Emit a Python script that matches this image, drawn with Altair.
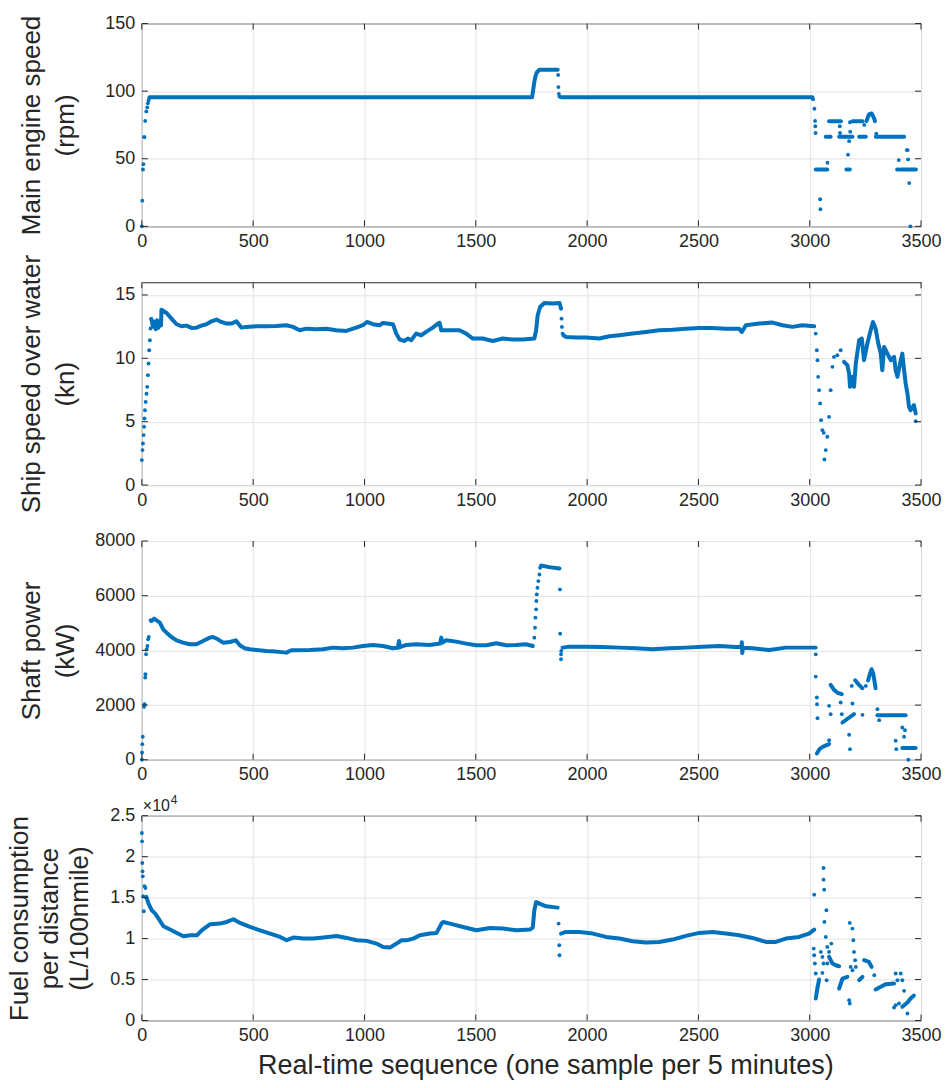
import altair as alt
import pandas as pd

BLUE = "#0072BD"
AXC = "#262626"
GRID = "#e3e3e3"
FONT = "Liberation Sans"
W = 780

x_ticks = [0, 500, 1000, 1500, 2000, 2500, 3000, 3500]

# ---------------- Panel 1: main engine speed (rpm) ----------------
rpm_ticks = [0, 50, 100, 150]
rpm_segments = [
    [(35, 95.5), (1753, 95.5), (1758, 101), (1762, 106), (1768, 111), (1775, 114), (1786, 115.8), (1868, 115.8)],
    [(1884, 95.5), (3012, 95.5)],
    [(3027, 42.1), (3079, 42.1)],
    [(3072, 66.3), (3094, 66.3)],
    [(3087, 77.8), (3140, 77.8)],
    [(3132, 66.3), (3192, 66.3)],
    [(3165, 42.1), (3180, 42.1)],
    [(3192, 77.8), (3237, 77.8)],
    [(3222, 66.3), (3252, 66.3)],
    [(3255, 77.8), (3266, 82.8), (3278, 83.5), (3289, 80), (3293, 77.8)],
    [(3297, 66.3), (3424, 66.3)],
    [(3393, 42.1), (3400, 42.1)],
    [(3409, 42.1), (3477, 42.1)],
]
rpm_dots = [
    (0, 0), (2, 19), (5, 42), (7, 46), (10, 66), (12, 66), (15, 78), (20, 85), (24, 88),
    (27, 91), (30, 93), (33, 95),
    (1870, 112), (1871, 103), (1873, 98), (1876, 96),
    (3015, 94), (3021, 87), (3024, 78), (3025, 74), (3026, 69), (3047, 20), (3048, 12.6),
    (3080, 47), (3135, 74), (3136, 69), (3172, 53), (3177, 63), (3181, 77), (3182, 70),
    (3245, 75), (3299, 68.5), (3400, 49), (3436, 56.4), (3440, 56.4), (3442, 49.5),
    (3447, 32), (3452, 0),
]

# ---------------- Panel 2: ship speed over water (kn) ----------------
speed_ticks = [0, 5, 10, 15]
speed_segments = [
    [(43, 13.1), (50, 12.5), (56, 12.9), (62, 12.3), (68, 13.0), (74, 12.4), (80, 12.9), (86, 12.6),
     (88, 13.84), (111, 13.58), (133, 13.13), (156, 12.69), (178, 12.53), (200, 12.58), (223, 12.4),
     (245, 12.42), (268, 12.58), (290, 12.69), (313, 12.92), (335, 13.06), (357, 12.87), (380, 12.74),
     (402, 12.74), (425, 12.92), (447, 12.42), (470, 12.48), (514, 12.53), (560, 12.53), (604, 12.55),
     (649, 12.61), (679, 12.48), (709, 12.21), (739, 12.34), (784, 12.29), (829, 12.34), (873, 12.21),
     (918, 12.16), (963, 12.42), (993, 12.61), (1011, 12.87), (1038, 12.69), (1068, 12.61), (1083, 12.79),
     (1128, 12.69), (1143, 11.95), (1158, 11.48), (1180, 11.37), (1195, 11.56), (1210, 11.43),
     (1232, 11.95), (1255, 11.82), (1277, 12.08), (1307, 12.42), (1330, 12.74), (1337, 12.8),
     (1345, 12.21), (1382, 12.21), (1427, 12.21), (1457, 11.95), (1487, 11.56), (1531, 11.56),
     (1576, 11.37), (1621, 11.56), (1666, 11.48), (1711, 11.48), (1763, 11.56), (1771, 12.21),
     (1778, 13.4), (1789, 14.05), (1808, 14.37), (1846, 14.32), (1876, 14.37), (1883, 13.92)],
    [(1895, 11.8), (1905, 11.69), (1950, 11.64), (1995, 11.64), (2055, 11.56), (2100, 11.74),
     (2145, 11.82), (2205, 11.95), (2264, 12.08), (2324, 12.21), (2384, 12.26), (2444, 12.34),
     (2504, 12.39), (2563, 12.39), (2623, 12.34), (2683, 12.34), (2695, 12.08), (2713, 12.61),
     (2773, 12.74), (2833, 12.82), (2878, 12.61), (2922, 12.48), (2967, 12.61), (3020, 12.53)],
    [(3154, 9.72), (3169, 9.46), (3177, 8.8), (3181, 7.75), (3192, 8.54), (3199, 7.75), (3207, 9.59),
     (3222, 11.43), (3234, 11.56), (3244, 9.85), (3259, 11.17), (3274, 12.21), (3284, 12.87),
     (3296, 12.34), (3308, 11.17), (3319, 10.37), (3326, 9.06), (3334, 10.9), (3349, 10.37),
     (3364, 9.85), (3379, 10.11), (3386, 9.06), (3394, 8.54), (3409, 9.85), (3416, 10.37),
     (3424, 9.06), (3431, 8.01), (3439, 7.22), (3446, 6.17), (3453, 5.91), (3468, 6.3), (3476, 5.65)],
]
speed_dots = [
    (0, 1.97), (3, 2.76), (5, 3.28), (8, 3.94), (10, 4.6), (12, 5.25), (14, 5.9), (17, 6.56),
    (21, 7.2), (24, 7.75), (27, 8.67), (30, 9.59), (33, 10.64), (36, 11.43), (39, 12.35), (42, 13.1),
    (1885, 13.13), (1887, 12.48), (1890, 11.95),
    (3027, 11.95), (3032, 10.64), (3035, 9.85), (3038, 8.54), (3042, 7.49), (3047, 6.44),
    (3051, 5.12), (3057, 4.33), (3063, 4.12), (3066, 2.02), (3072, 2.76), (3079, 3.81),
    (3087, 5.38), (3094, 7.49), (3102, 9.33), (3109, 10.11), (3124, 10.24), (3139, 10.64),
    (3476, 5.04),
]

# ---------------- Panel 3: shaft power (kW) ----------------
power_ticks = [0, 2000, 4000, 6000, 8000]
power_segments = [
    [(40, 5100), (43, 5074), (55, 5160), (66, 5098), (81, 5013), (96, 4769), (111, 4647), (133, 4490),
     (156, 4368), (185, 4283), (215, 4223), (245, 4223), (275, 4344), (305, 4466), (320, 4490),
     (342, 4405), (365, 4283), (395, 4307), (422, 4368), (440, 4186), (462, 4077), (485, 4040),
     (515, 4015), (559, 3979), (604, 3955), (649, 3918), (672, 4003), (694, 4003), (754, 4015),
     (814, 4040), (858, 4101), (903, 4077), (948, 4101), (993, 4161), (1038, 4198), (1083, 4161),
     (1128, 4077), (1150, 4100), (1155, 4344), (1160, 4120), (1188, 4198), (1232, 4223),
     (1292, 4198), (1340, 4250), (1345, 4466), (1350, 4283), (1367, 4368), (1412, 4320),
     (1457, 4247), (1502, 4186), (1547, 4186), (1592, 4259), (1636, 4186), (1681, 4198),
     (1726, 4223), (1756, 4161)],
    [(1793, 7106), (1830, 7045), (1876, 6996)],
    [(1890, 4101), (1920, 4137), (1995, 4137), (2070, 4125), (2145, 4101), (2219, 4077), (2294, 4040),
     (2369, 4077), (2444, 4101), (2519, 4137), (2593, 4161), (2668, 4125), (2693, 4125), (2695, 4300),
     (2697, 3900), (2700, 4100), (2743, 4077), (2818, 4015), (2893, 4101), (2967, 4101), (3027, 4101)],
    [(3032, 231), (3045, 400), (3060, 480), (3087, 572)],
    [(3094, 2738), (3110, 2550), (3125, 2450), (3144, 2397)],
    [(3147, 1363), (3170, 1500), (3199, 1667)],
    [(3204, 2908), (3220, 2750), (3237, 2616)],
    [(3262, 2900), (3270, 3127), (3278, 3310), (3286, 3127), (3296, 2616)],
    [(3304, 1630), (3431, 1630)],
    [(3416, 426), (3476, 426)],
]
power_dots = [
    (0, 0), (1, 268), (2, 572), (4, 840), (10, 1935), (12, 2032), (15, 3005), (16, 3127),
    (19, 3857), (22, 4040), (25, 4161), (28, 4405), (31, 4490),
    (1763, 4466), (1766, 4831), (1768, 5196), (1771, 5500), (1772, 5804), (1774, 6047),
    (1777, 6290), (1781, 6534), (1786, 6777), (1789, 7020),
    (1878, 6230), (1879, 4611), (1883, 3674), (1883, 3856), (1884, 3979),
    (3027, 3856), (3027, 3042), (3032, 2275), (3033, 2032), (3035, 1521), (3087, 718),
    (3087, 1971), (3094, 1667), (3139, 2093), (3144, 1667), (3177, 913), (3181, 389),
    (3189, 2700), (3192, 2056), (3237, 1643), (3252, 2700), (3304, 1850), (3312, 1448),
    (3386, 694), (3389, 389), (3416, 1180), (3428, 1083), (3424, 840), (3443, 0),
]

# ---------------- Panel 4: fuel consumption per distance (L/100nmile) ----------------
fuel_ticks = [0, 5000, 10000, 15000, 20000, 25000]
fuel_segments = [
    [(20, 15100), (30, 14270), (45, 13450), (60, 13050), (75, 12440), (97, 11500), (127, 11100),
     (157, 10690), (187, 10280), (217, 10400), (247, 10400), (269, 11010), (307, 11750), (351, 11830),
     (381, 12030), (411, 12360), (441, 11910), (486, 11420), (531, 11010), (576, 10610), (621, 10200),
     (651, 9800), (681, 10120), (725, 10000), (770, 10000), (815, 10120), (875, 10320), (920, 10080),
     (965, 9800), (1010, 9720), (1054, 9390), (1084, 8980), (1114, 8900), (1144, 9390), (1167, 9800),
     (1189, 9800), (1219, 10000), (1249, 10400), (1294, 10610), (1324, 10690), (1346, 11830),
     (1354, 12030), (1384, 11830), (1443, 11420), (1503, 11010), (1563, 11300), (1623, 11220),
     (1683, 11010), (1743, 11098), (1756, 11341), (1763, 13455), (1771, 14471), (1786, 14268),
     (1816, 13943), (1868, 13780)],
    [(1883, 10610), (1905, 10813), (1965, 10813), (2025, 10610), (2085, 10203), (2145, 10000),
     (2205, 9675), (2264, 9512), (2324, 9594), (2384, 9878), (2444, 10325), (2504, 10691),
     (2563, 10813), (2623, 10610), (2683, 10407), (2743, 10081), (2803, 9594), (2848, 9594),
     (2893, 10000), (2952, 10203), (2997, 10610), (3020, 11098)],
    [(3027, 2683), (3035, 4000), (3042, 5000)],
    [(3087, 7764), (3102, 6951), (3117, 6748), (3132, 6626)],
    [(3132, 3902), (3147, 5122), (3169, 5325)],
    [(3222, 4919), (3237, 5325)],
    [(3244, 7358), (3266, 7154), (3278, 6545)],
    [(3296, 3780), (3341, 4431), (3379, 4512)],
    [(3416, 1667), (3439, 2195), (3453, 2683), (3468, 3049)],
]
fuel_dots = [
    (0, 22886), (1, 21870), (2, 19228), (3, 18211), (4, 17602), (12, 16382), (16, 16179),
    (6, 15163), (20, 14960), (9, 13333),
    (1872, 11829), (1875, 9187), (1876, 7967),
    (3020, 15366), (3018, 8780), (3020, 7967), (3023, 6951), (3027, 5732), (3035, 4106),
    (3050, 8374), (3057, 7764), (3062, 6951), (3057, 5813), (3062, 18617), (3062, 17195),
    (3065, 15976), (3075, 13455), (3066, 12033), (3072, 10203), (3079, 8984), (3087, 8374),
    (3097, 9390), (3079, 6951), (3076, 4919), (3177, 2480), (3180, 2073), (3180, 11911),
    (3192, 11220), (3196, 9797), (3199, 8374), (3204, 7358), (3207, 6545), (3184, 6545),
    (3192, 6138), (3290, 5528), (3386, 5732), (3394, 4919), (3379, 1586), (3409, 5732),
    (3416, 4919), (3386, 1870), (3401, 2073), (3424, 3618), (3439, 854),
]


def seg_df(segs):
    rows = []
    for i, s in enumerate(segs):
        for x, y in s:
            rows.append({"x": x, "y": y, "seg": i})
    return pd.DataFrame(rows)


def dot_df(dots):
    return pd.DataFrame([{"x": x, "y": y} for x, y in dots])


def panel(segs, dots, ydomain, yticks, ytitle, height, title_x, line_h=34, xtitle=None,
          label_expr=None, extra=None):
    xs = alt.Scale(domain=[0, 3500], nice=False, zero=False)
    ys = alt.Scale(domain=ydomain, nice=False, zero=False)
    xaxis_kw = dict(values=x_ticks, grid=True, gridColor=GRID, gridWidth=1, ticks=False,
                    domain=False, labelFontSize=18, labelFont=FONT, labelColor=AXC,
                    labelPadding=6, format="d", labelFlush=False)
    if xtitle:
        xaxis_kw.update(title=xtitle, titleFont=FONT, titleFontSize=27,
                        titleFontWeight="normal", titleColor=AXC, titlePadding=8,
                        titleX=W / 2 + 14)
    else:
        xaxis_kw.update(title=None)
    yaxis_kw = dict(values=yticks, grid=True, gridColor=GRID, gridWidth=1, ticks=False,
                    domain=False, labelFontSize=18, labelFont=FONT, labelColor=AXC,
                    labelPadding=7, title=ytitle, titleFont=FONT, titleFontSize=26,
                    titleFontWeight="normal", titleColor=AXC, titleAngle=270,
                    titleAlign="center", titleBaseline="middle", titleLineHeight=line_h,
                    titleX=title_x, titleY=height / 2, labelFlush=False)
    if label_expr:
        yaxis_kw["labelExpr"] = label_expr
    else:
        yaxis_kw["format"] = "d"
    X = alt.X("x:Q", scale=xs, axis=alt.Axis(**xaxis_kw))
    Y = alt.Y("y:Q", scale=ys, axis=alt.Axis(**yaxis_kw))

    lines = alt.Chart(seg_df(segs)).mark_line(
        color=BLUE, strokeWidth=4, clip=True, strokeJoin="round", strokeCap="round"
    ).encode(x=X, y=Y, detail="seg:N", order="x:Q")
    pts = alt.Chart(dot_df(dots)).mark_circle(
        color=BLUE, size=15, opacity=1, clip=False
    ).encode(x=X, y=Y)

    xt = pd.DataFrame({"x": x_ticks})
    yt = pd.DataFrame({"y": yticks})
    rule = dict(color=AXC, strokeWidth=1)
    xt_top = alt.Chart(xt).mark_rule(**rule).encode(x=X, y=alt.value(0), y2=alt.value(6))
    xt_bot = alt.Chart(xt).mark_rule(**rule).encode(x=X, y=alt.value(height), y2=alt.value(height - 6))
    yt_l = alt.Chart(yt).mark_rule(**rule).encode(y=Y, x=alt.value(0), x2=alt.value(6))
    yt_r = alt.Chart(yt).mark_rule(**rule).encode(y=Y, x=alt.value(W), x2=alt.value(W - 6))

    layers = [lines, pts, xt_top, xt_bot, yt_l, yt_r]
    if extra is not None:
        layers += extra
    return alt.layer(*layers).properties(width=W, height=height)


mult = pd.DataFrame({"t": ["\u00d710"]})
sup = pd.DataFrame({"t": ["4"]})
exp_text = [
    alt.Chart(mult).mark_text(align="left", baseline="alphabetic", fontSize=16, font=FONT,
                              color=AXC).encode(text="t:N", x=alt.value(1), y=alt.value(-5)),
    alt.Chart(sup).mark_text(align="left", baseline="alphabetic", fontSize=12, font=FONT,
                             color=AXC).encode(text="t:N", x=alt.value(29), y=alt.value(-12)),
]

p1 = panel(rpm_segments, rpm_dots, [0, 150], rpm_ticks, ["Main engine speed", "(rpm)"], 203, -110)
p2 = panel(speed_segments, speed_dots, [0, 16], speed_ticks, ["Ship speed over water", "(kn)"], 203, -110)
p3 = panel(power_segments, power_dots, [0, 8000], power_ticks, ["Shaft power", "(kW)"], 219, -110)
p4 = panel(fuel_segments, fuel_dots, [0, 25000], fuel_ticks,
           ["Fuel consumption", "per distance", "(L/100nmile)"], 205, -122, line_h=30,
           xtitle="Real-time sequence (one sample per 5 minutes)",
           label_expr="format(datum.value / 10000, '~g')", extra=exp_text)

chart = alt.vconcat(p1, p2, p3, p4, spacing=56, bounds="flush").properties(
    padding={"left": 6, "top": 13, "right": 5, "bottom": 5},
    background="white",
).configure_view(stroke=AXC, strokeWidth=1)

chart.save("out.html", embed_options={"renderer": "svg", "actions": False})
